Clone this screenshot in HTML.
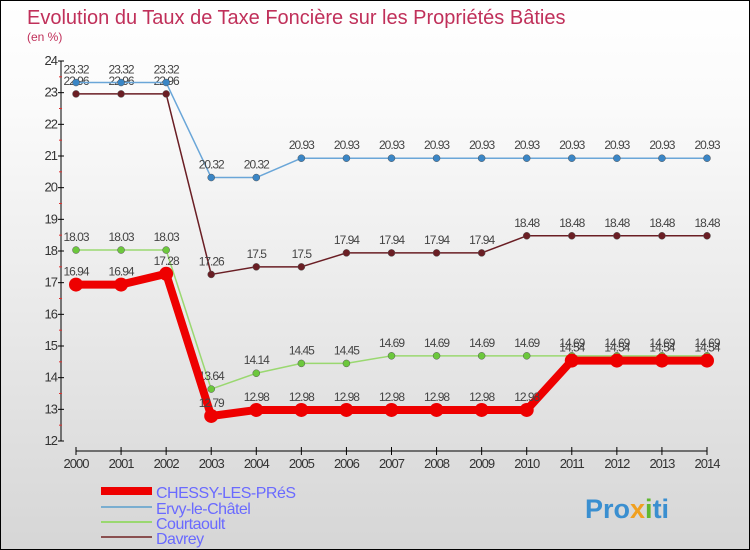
<!DOCTYPE html>
<html><head><meta charset="utf-8"><style>
body{margin:0}
#c{width:748px;height:548px;border:1px solid #000;background:linear-gradient(#fff,#fafafa 20%,#d6d6d6);position:relative;font-family:"Liberation Sans",sans-serif;overflow:hidden}
</style></head><body>
<div id="c">
<svg id="s" width="748" height="548" style="position:absolute;left:0;top:0">
<text x="26" y="23" font-size="20" fill="#c0305a">Evolution du Taux de Taxe Foncière sur les Propriétés Bâties</text>
<text x="26" y="40" font-size="12" fill="#c0305a">(en %)</text>
<g id="axes"></g><g id="series"></g><g id="legend"></g>
<text x="584" y="517" font-size="27" font-weight="bold" fill="#3a8fd0">Pro<tspan fill="#f0a020">x</tspan><tspan fill="#60b830">i</tspan>ti</text>
</svg>
</div>
<script>
const years=[2000,2001,2002,2003,2004,2005,2006,2007,2008,2009,2010,2011,2012,2013,2014];
const yTicks=[12,13,14,15,16,17,18,19,20,21,22,23,24];
const chessy=[16.94,16.94,17.28,12.79,12.98,12.98,12.98,12.98,12.98,12.98,12.98,14.54,14.54,14.54,14.54];
const ervy=[23.32,23.32,23.32,20.32,20.32,20.93,20.93,20.93,20.93,20.93,20.93,20.93,20.93,20.93,20.93];
const courtaoult=[18.03,18.03,18.03,13.64,14.14,14.45,14.45,14.69,14.69,14.69,14.69,14.69,14.69,14.69,14.69];
const davrey=[22.96,22.96,22.96,17.26,17.5,17.5,17.94,17.94,17.94,17.94,18.48,18.48,18.48,18.48,18.48];
const NS='http://www.w3.org/2000/svg';
const x=i=>75+i*(706-75)/(years.length-1);
const y=v=>440-(v-12)*(440-60)/12;
function mk(t,a,p){const e=document.createElementNS(NS,t);for(const k in a)e.setAttribute(k,a[k]);p.appendChild(e);return e;}
const ax=document.getElementById('axes');
let l=mk('line',{x1:60,y1:60,x2:60,y2:440,stroke:'#000'},ax);


l=mk('line',{x1:75,y1:450,x2:706,y2:450,stroke:'#000'},ax);


yTicks.forEach(v=>{
 mk('line',{x1:57,y1:y(v),x2:63,y2:y(v),stroke:'#000'},ax);
 if(v<24)mk('line',{x1:58,y1:y(v+0.5),x2:61,y2:y(v+0.5),stroke:'#e03030'},ax);
 const t=mk('text',{x:56,y:y(v)+4,'font-size':13,'text-anchor':'end',fill:'#333','letter-spacing':'-1'},ax);
 t.textContent=v;
 
 
});
years.forEach((yr,i)=>{
 mk('line',{x1:x(i),y1:446,x2:x(i),y2:454,stroke:'#000'},ax);
 const t=mk('text',{x:x(i),y:467,'font-size':13,'text-anchor':'middle',fill:'#333','letter-spacing':'-1'},ax);
 t.textContent=yr;
 
 
});
const sg=document.getElementById('series');
const defs=[
 {d:davrey,c:'#6a1e24',w:1.5,r:3.5,n:'davrey'},
 {d:ervy,c:'#6aa6d8',w:1.5,r:3.5,n:'ervy-le-chatel',mc:'#3a86c6'},
 {d:courtaoult,c:'#9ad870',w:1.5,r:3.5,n:'courtaoult',mc:'#6cc83c'},
 {d:chessy,c:'#ee0000',w:8,r:7,n:'chessy-les-pres'}];
defs.forEach(s=>{
 const g=mk('g',{},sg);
 
 
 const p=mk('polyline',{points:s.d.map((v,i)=>x(i)+','+y(v)).join(' '),fill:'none',stroke:s.c,'stroke-width':s.w,'stroke-linejoin':'round'},g);
 
 
 s.d.forEach((v,i)=>{
  const c=mk('circle',{cx:x(i),cy:y(v),r:s.r,fill:s.mc||s.c,stroke:s.w>2?'none':'#555','stroke-width':0.5},g);
  
  
  const t=mk('text',{x:x(i),y:y(v)-9,'font-size':12,'text-anchor':'middle',fill:'#444','letter-spacing':'-1'},g);
  t.textContent=v;
  
  
 });
});
const lg=document.getElementById('legend');
[['CHESSY-LES-PRéS','#ee0000',8,492],['Ervy-le-Châtel','#7aaed0',2,508],['Courtaoult','#9ad870',2,523],['Davrey','#8a5050',2,538]].forEach(e=>{
 const g=mk('g',{},lg);
 
 
 mk('line',{x1:100,y1:e[3]-2,x2:151,y2:e[3]-2,stroke:e[1],'stroke-width':e[2]},g);
 const t=mk('text',{x:155,y:e[3]+5,'font-size':16,fill:'#6a6aff','letter-spacing':'-0.5'},g);
 t.textContent=e[0];
});
</script>
</body></html>
